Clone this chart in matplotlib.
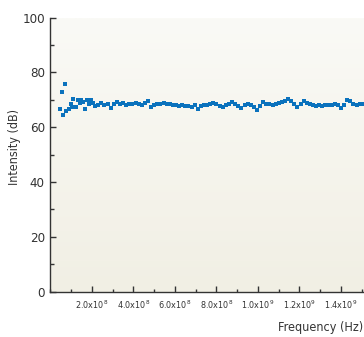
import matplotlib
matplotlib.use("Agg")
import matplotlib.pyplot as plt
import numpy as np
from matplotlib.ticker import FixedLocator, FuncFormatter, MultipleLocator

# frequency in MHz and measured intensity in dB
freq_mhz = [
    46, 57, 61, 70, 77, 88, 97, 105, 110, 122,
    132, 141, 147, 156, 166, 176, 185, 193, 203, 215,
    230, 245, 260, 275, 290, 305, 320, 335, 350, 365,
    380, 395, 410, 425, 440, 455, 470, 485, 500, 515,
    530, 545, 560, 575, 590, 605, 620, 635, 650, 665,
    680, 695, 710, 725, 740, 755, 770, 785, 800, 815,
    830, 845, 860, 875, 890, 905, 920, 935, 950, 965,
    980, 995, 1010, 1025, 1040, 1055, 1070, 1085, 1100, 1115,
    1130, 1145, 1160, 1175, 1190, 1205, 1220, 1235, 1250, 1265,
    1280, 1295, 1310, 1325, 1340, 1355, 1370, 1385, 1400, 1415,
    1430, 1445, 1460, 1475, 1490, 1505,
]
intensity_db = [
    66.5, 72.9, 64.5, 75.6, 66.0, 66.5, 68.3, 67.2, 70.2, 67.4,
    69.8, 68.7, 69.8, 69.3, 66.5, 69.8, 68.6, 69.8, 68.7, 67.6,
    68.2, 68.8, 68.0, 68.5, 67.0, 68.3, 69.0, 68.4, 68.9, 68.2,
    68.6, 68.3, 68.8, 68.5, 68.2, 68.9, 69.6, 67.2, 68.1, 68.6,
    68.3, 68.7, 68.4, 68.6, 68.2, 68.0, 67.7, 68.0, 67.6, 67.8,
    67.5, 67.9, 66.7, 67.6, 68.2, 68.0, 68.6, 68.9, 68.3, 67.8,
    67.4, 68.2, 68.6, 69.1, 68.4, 67.6, 66.8, 67.9, 68.6, 68.2,
    67.4, 66.3, 67.8, 69.0, 68.4, 68.6, 68.1, 68.5, 68.9, 69.3,
    69.7, 70.1, 69.4, 68.6, 67.3, 68.6, 69.5, 68.9, 68.3, 67.9,
    67.6, 68.0, 67.8, 68.0, 67.9, 68.1, 68.3, 68.0, 66.8, 68.2,
    70.0, 69.4, 68.6, 68.2, 68.4, 68.3,
]

x_major = [2e8, 4e8, 6e8, 8e8, 1.0e9, 1.2e9, 1.4e9]
y_major = [0, 20, 40, 60, 80, 100]

plt.rcParams["font.family"] = ["DejaVu Sans"]
plt.rcParams["font.stretch"] = "condensed"
plt.rcParams["mathtext.fontset"] = "custom"
plt.rcParams["mathtext.rm"] = "DejaVu Sans:stretch=condensed"

DARK = "#333333"
BLUE = "#0B72BD"

fig = plt.figure(figsize=(3.64, 3.37), dpi=100)
ax = fig.add_axes([0.1387, 0.135, 0.8665, 0.813])

# cream gradient background
grad = np.linspace(0, 1, 256).reshape(-1, 1)
cmap = matplotlib.colors.LinearSegmentedColormap.from_list(
    "cream", ["#FAFAF6", "#F1EFE4"])
ax.imshow(grad, cmap=cmap, aspect="auto", extent=[0, 1, 0, 1],
          transform=ax.transAxes, zorder=0)

freq = np.array(freq_mhz) * 1e6
ax.plot(freq, intensity_db, "s", color=BLUE, ms=3.5, mew=0, zorder=3)

ax.set_xlim(0, 1.52e9)
ax.set_ylim(0, 100)

for s in ["top", "right"]:
    ax.spines[s].set_visible(False)
for s in ["left", "bottom"]:
    ax.spines[s].set_color(DARK)
    ax.spines[s].set_linewidth(1.0)

ax.xaxis.set_major_locator(FixedLocator(x_major))
ax.xaxis.set_minor_locator(MultipleLocator(1e8))
ax.yaxis.set_major_locator(FixedLocator(y_major))
ax.yaxis.set_minor_locator(MultipleLocator(10))


def fmt_freq(v, pos):
    exp = int(np.floor(np.log10(v)))
    return rf"{v / 10**exp:.1f}x10$^{{{exp}}}$"


ax.xaxis.set_major_formatter(FuncFormatter(fmt_freq))
ax.tick_params(axis="x", which="major", direction="in", length=4, width=1,
               color=DARK, labelsize=6.5, labelcolor=DARK, pad=5)
ax.tick_params(axis="x", which="minor", direction="in", length=2.5, width=1,
               color=DARK)
ax.tick_params(axis="y", which="major", direction="in", length=4, width=1,
               color=DARK, labelsize=9.5, labelcolor=DARK, pad=4)
ax.tick_params(axis="y", which="minor", direction="in", length=3, width=1,
               color=DARK)

fig.text(15 / 364, 1 - 147 / 337, "Intensity (dB)", rotation=90,
         ha="center", va="center", fontsize=9, color=DARK)
fig.text(0.998, 1 - 328 / 337, "Frequency (Hz)", ha="right", va="center",
         fontsize=9, color=DARK)

fig.savefig("out.png", dpi=100)
